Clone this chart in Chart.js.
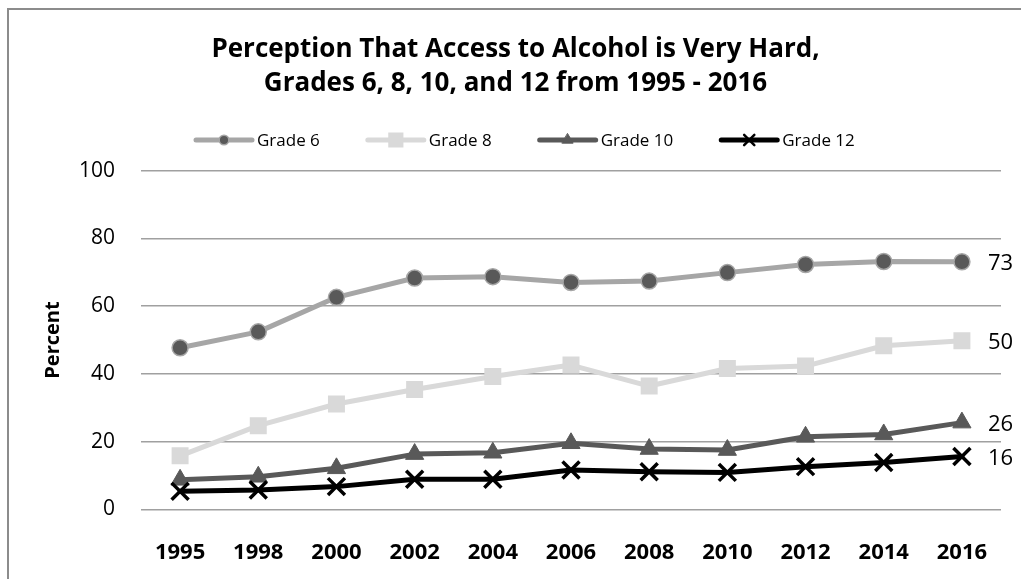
<!DOCTYPE html>
<html>
<head>
<meta charset="utf-8">
<title>Perception That Access to Alcohol is Very Hard</title>
<script src="https://cdn.jsdelivr.net/npm/chart.js@4.4.1/dist/chart.umd.min.js"></script>
<style>
  html, body { margin: 0; padding: 0; background: #fff; }
  #wrap { position: relative; width: 1021px; height: 579px; overflow: hidden; }
  #frame { position: absolute; left: 7px; top: 8px; width: 1100px; height: 700px; border: 2px solid #8c8c8c; }
  canvas { position: absolute; left: 0; top: 0; }
</style>
</head>
<body>
<div id="wrap">
  <div id="frame"></div>
  <canvas id="chart" width="1021" height="579"></canvas>
</div>
<script>
const years = ['1995', '1998', '2000', '2002', '2004', '2006', '2008', '2010', '2012', '2014', '2016'];
const grade6 = [47.7, 52.4, 62.6, 68.3, 68.7, 67.0, 67.4, 69.9, 72.3, 73.2, 73.1];
const grade8 = [15.8, 24.7, 31.1, 35.4, 39.2, 42.6, 36.4, 41.6, 42.3, 48.3, 49.8];
const grade10 = [8.7, 9.6, 12.1, 16.3, 16.7, 19.5, 17.8, 17.5, 21.4, 22.1, 25.6];
const grade12 = [5.3, 5.7, 6.7, 8.9, 8.9, 11.6, 11.1, 10.9, 12.6, 13.8, 15.6];
const seriesNames = ['Grade 6', 'Grade 8', 'Grade 10', 'Grade 12'];
const yTicks = [0, 20, 40, 60, 80, 100];

const FONT = "'Open Sans', 'DejaVu Sans', sans-serif";
Chart.defaults.font.family = FONT;
Chart.defaults.color = '#000';

function series(label, data, o) {
  return Object.assign({
    label, data,
    tension: 0,
    borderWidth: 5,
    borderJoinStyle: 'round',
    borderCapStyle: 'round',
    pointHoverRadius: 8,
  }, o);
}

const datasets = [
  series(seriesNames[0], grade6, {
    borderColor: '#a6a6a6', pointStyle: 'circle', pointRadius: 8,
    pointBackgroundColor: '#595959', pointBorderColor: '#a6a6a6', pointBorderWidth: 1.5, order: 4,
  }),
  series(seriesNames[1], grade8, {
    borderColor: '#d9d9d9', pointStyle: 'rect', pointRadius: 12,
    pointBackgroundColor: '#d9d9d9', pointBorderColor: '#d9d9d9', pointBorderWidth: 0, order: 3,
  }),
  series(seriesNames[2], grade10, {
    borderColor: '#595959', pointStyle: 'triangle', pointRadius: 10.5,
    pointBackgroundColor: '#595959', pointBorderColor: '#595959', pointBorderWidth: 1, order: 2,
  }),
  series(seriesNames[3], grade12, {
    borderColor: '#000', pointStyle: 'crossRot', pointRadius: 12,
    pointBackgroundColor: '#000', pointBorderColor: '#000', pointBorderWidth: 3.5, order: 1,
  }),
];

// legend row: short line with the series marker in its middle, then the name
const lineLegend = {
  id: 'lineLegend',
  afterDraw(chart) {
    const ctx = chart.ctx;
    const y = 140;
    let x = 196;
    ctx.save();
    ctx.font = '17px ' + FONT;
    ctx.textBaseline = 'middle';
    ctx.textAlign = 'left';
    datasets.forEach(ds => {
      ctx.strokeStyle = ds.borderColor;
      ctx.lineWidth = 5;
      ctx.lineCap = 'round';
      ctx.beginPath();
      ctx.moveTo(x, y);
      ctx.lineTo(x + 56, y);
      ctx.stroke();
      ctx.fillStyle = ds.pointBackgroundColor;
      ctx.strokeStyle = ds.pointBorderColor;
      ctx.lineWidth = ds.pointBorderWidth ? Math.min(ds.pointBorderWidth, 2.5) : 0;
      Chart.helpers.drawPoint(ctx, {
        pointStyle: ds.pointStyle,
        radius: ds.pointRadius * 0.6,
        rotation: 0,
        borderWidth: ctx.lineWidth,
      }, x + 28, y);
      ctx.fillStyle = '#000';
      ctx.fillText(ds.label, x + 61, y + 1);
      x += 61 + ctx.measureText(ds.label).width + 48;
    });
    ctx.restore();
  }
};

// value of the last year written to the right of each line
const endLabels = {
  id: 'endLabels',
  afterDatasetsDraw(chart) {
    const ctx = chart.ctx;
    ctx.save();
    ctx.font = '22px ' + FONT;
    ctx.fillStyle = '#000';
    ctx.textAlign = 'left';
    ctx.textBaseline = 'middle';
    chart.data.datasets.forEach((ds, i) => {
      const pts = chart.getDatasetMeta(i).data;
      const last = pts[pts.length - 1];
      const v = ds.data[ds.data.length - 1];
      ctx.fillText(String(Math.round(v)), last.x + 26, last.y + 2);
    });
    ctx.restore();
  }
};

new Chart(document.getElementById('chart').getContext('2d'), {
  type: 'line',
  data: { labels: years, datasets },
  options: {
    responsive: false,
    animation: false,
    devicePixelRatio: 1,
    layout: { padding: { top: 0, left: 30, right: 20, bottom: 0 } },
    plugins: {
      legend: { display: false },
      tooltip: { enabled: false },
      title: {
        display: true,
        text: ['Perception That Access to Alcohol is Very Hard,', 'Grades 6, 8, 10, and 12 from 1995 - 2016'],
        font: { size: 26, weight: 'bold', lineHeight: '34px' },
        color: '#000',
        padding: { top: 33, bottom: 69.7 },
      },
    },
    scales: {
      x: {
        offset: true,
        grid: { display: false },
        border: { display: false },
        ticks: { font: { size: 22, weight: 'bold' }, padding: 22, maxRotation: 0, autoSkip: false },
        afterFit(scale) { scale.height = 69.7; },
      },
      y: {
        min: 0,
        max: 100,
        afterBuildTicks(scale) { scale.ticks = yTicks.map(v => ({ value: v })); },
        grid: { color: '#a0a0a0', lineWidth: 1.5, drawTicks: false },
        border: { display: false },
        ticks: { font: { size: 21 }, padding: 26 },
        title: { display: true, text: 'Percent', font: { size: 20, weight: 'bold' }, padding: { top: 11, bottom: 0 } },
        afterFit(scale) { scale.width = 111; },
      },
    },
  },
  plugins: [lineLegend, endLabels],
});
</script>
</body>
</html>
